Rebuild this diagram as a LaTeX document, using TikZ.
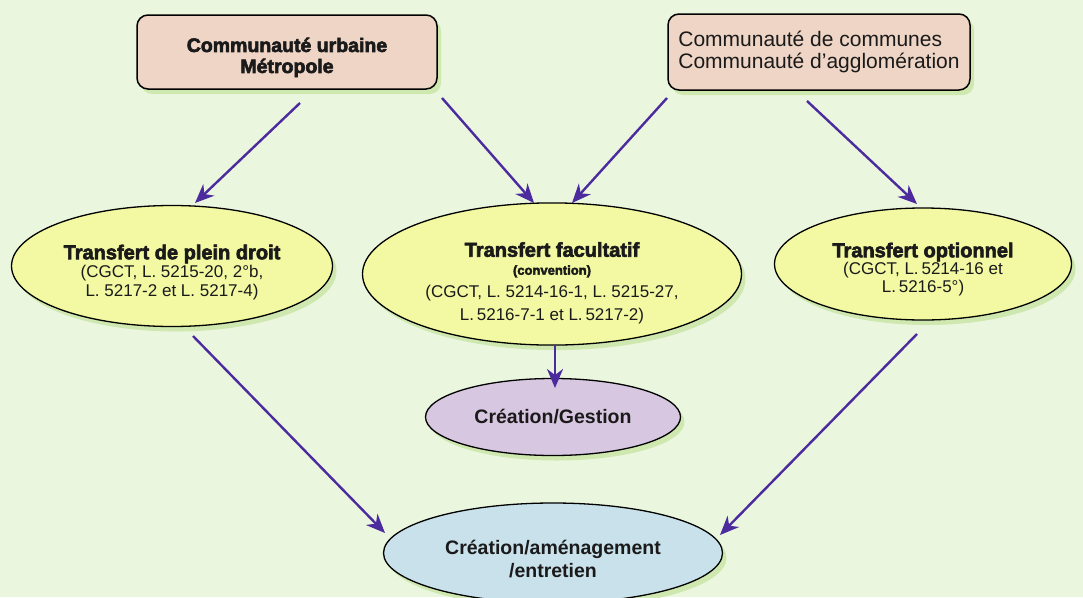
\documentclass[tikz,border=0pt]{standalone}
\usepackage{fontspec}
\setmainfont{Liberation Sans}
\newfontfamily\heavy{Liberation Sans}[BoldFeatures={FakeBold=3}]
\usetikzlibrary{shapes.geometric,arrows.meta,shadows}
\definecolor{bgc}{HTML}{EBF6DF}
\definecolor{boxfill}{HTML}{EED5C5}
\definecolor{yel}{HTML}{F2F9A2}
\definecolor{lilac}{HTML}{D8C7E0}
\definecolor{bluec}{HTML}{C8E1EB}
\definecolor{arrowc}{HTML}{4B2B9E}
\definecolor{glow}{HTML}{C3E39B}
\definecolor{ink}{HTML}{1A1A1A}
\begin{document}
\begin{tikzpicture}[x=1pt,y=-1pt,
  shad/.style={drop shadow={shadow xshift=4pt,shadow yshift=-5pt,fill=glow,opacity=.7}},
  box/.style={draw=black, line width=1.5pt, rounded corners=11pt, fill=boxfill,
    inner sep=0pt, text=ink, shad},
  oval/.style={ellipse, draw=black, line width=1.3pt, inner sep=0pt, align=center, text=ink, shad},
  arr/.style={draw=arrowc, line width=2.4pt, -{Stealth[length=19pt,width=16pt,inset=6pt]}}]
\fill[bgc] (0,0) rectangle (1083,597);
\useasboundingbox (0,0) rectangle (1083,597);

\node[box, minimum width=300pt, minimum height=74pt, align=center,
  font=\heavy\bfseries\fontsize{19.5}{21}\selectfont] (cu) at (287,52)
  {\rule{0pt}{25pt}Communauté urbaine\\Métropole};
\node[box, minimum width=302pt, minimum height=76pt, align=left,
  font=\fontsize{21}{22}\selectfont] (cc) at (819,52)
  {Communauté de communes\\Communauté d’agglomération};

\node[oval, fill=yel, minimum width=321pt, minimum height=121pt,
  font=\fontsize{17}{18.5}\selectfont] (pd) at (172,266)
  {\rule{0pt}{27pt}{\heavy\bfseries\fontsize{20}{20}\selectfont Transfert de plein droit}\\
   (CGCT, L. 5215-20, 2°b,\\
   L. 5217-2 et L. 5217-4)};
\node[oval, fill=yel, minimum width=379pt, minimum height=132pt,
  font=\fontsize{17}{23}\selectfont] (fa) at (552,274)
  {\rule{0pt}{33pt}{\heavy\bfseries\fontsize{20}{20}\selectfont Transfert facultatif}\\[-5pt]
   {\heavy\bfseries\fontsize{13}{14}\selectfont (convention)}\\
   (CGCT, L. 5214-16-1, L. 5215-27,\\
   L.\,5216-7-1 et L.\,5217-2)};
\node[oval, fill=yel, minimum width=297pt, minimum height=112pt,
  font=\fontsize{17}{17.5}\selectfont] (op) at (923,264)
  {\rule{0pt}{25pt}{\heavy\bfseries\fontsize{20}{20}\selectfont Transfert optionnel}\\
   (CGCT, L.\,5214-16 et\\
   L.\,5216-5°)};
\node[oval, fill=lilac, minimum width=255pt, minimum height=77pt,
  font=\bfseries\fontsize{19.5}{21}\selectfont] (cg) at (553,417) {Création/Gestion};
\node[oval, fill=bluec, minimum width=339pt, minimum height=100pt,
  font=\bfseries\fontsize{19.5}{23}\selectfont] (ca) at (553,553)
  {\rule{0pt}{26pt}Création/aménagement\\/entretien};

\coordinate (a1s) at (300,103); \coordinate (a1e) at (195,203);
\coordinate (a2s) at (442,98);  \coordinate (a2e) at (534,203);
\coordinate (a3s) at (667,98);  \coordinate (a3e) at (572,203);
\coordinate (a4s) at (807,101); \coordinate (a4e) at (917,204);
\coordinate (a5s) at (193,336); \coordinate (a5e) at (385,533);
\coordinate (a6s) at (917,334); \coordinate (a6e) at (720,535);
\coordinate (a7s) at (555,345); \coordinate (a7e) at (555,388);
\draw[arr] (a1s) -- (a1e);
\draw[arr] (a2s) -- (a2e);
\draw[arr] (a3s) -- (a3e);
\draw[arr] (a4s) -- (a4e);
\draw[arr] (a5s) -- (a5e);
\draw[arr] (a6s) -- (a6e);
\draw[arr] (a7s) -- (a7e);
\end{tikzpicture}
\end{document}
